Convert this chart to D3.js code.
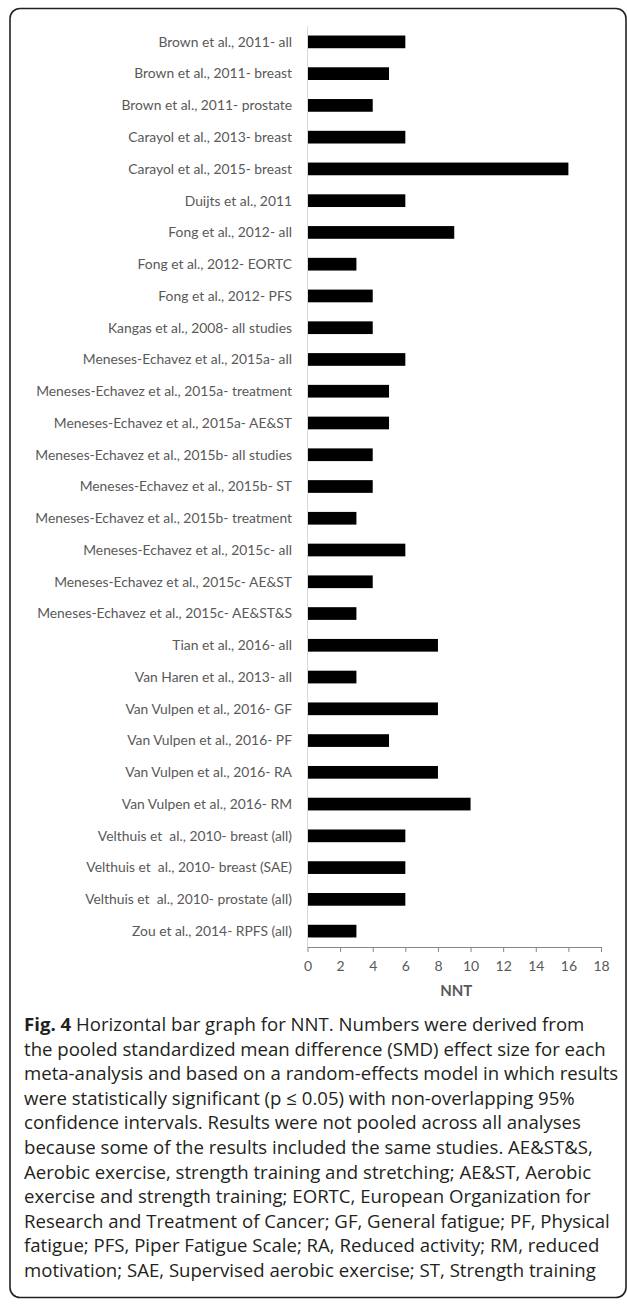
<!DOCTYPE html>
<html>
<head>
<meta charset="utf-8">
<script src="https://cdn.jsdelivr.net/npm/d3@7/dist/d3.min.js"></script>
<style>
  html, body { margin: 0; padding: 0; background: #fff; }
  svg { display: block; }
</style>
</head>
<body>
<svg id="chart" width="627" height="1307"></svg>
<script>
const categories = [
  "Brown et al., 2011- all",
  "Brown et al., 2011- breast",
  "Brown et al., 2011- prostate",
  "Carayol et al., 2013- breast",
  "Carayol et al., 2015- breast",
  "Duijts et al., 2011",
  "Fong et al., 2012- all",
  "Fong et al., 2012- EORTC",
  "Fong et al., 2012- PFS",
  "Kangas et al., 2008- all studies",
  "Meneses-Echavez et al., 2015a- all",
  "Meneses-Echavez et al., 2015a- treatment",
  "Meneses-Echavez et al., 2015a- AE&ST",
  "Meneses-Echavez et al., 2015b- all studies",
  "Meneses-Echavez et al., 2015b- ST",
  "Meneses-Echavez et al., 2015b- treatment",
  "Meneses-Echavez et al., 2015c- all",
  "Meneses-Echavez et al., 2015c- AE&ST",
  "Meneses-Echavez et al., 2015c- AE&ST&S",
  "Tian et al., 2016- all",
  "Van Haren et al., 2013- all",
  "Van Vulpen et al., 2016- GF",
  "Van Vulpen et al., 2016- PF",
  "Van Vulpen et al., 2016- RA",
  "Van Vulpen et al., 2016- RM",
  "Velthuis et  al., 2010- breast (all)",
  "Velthuis et  al., 2010- breast (SAE)",
  "Velthuis et  al., 2010- prostate (all)",
  "Zou et al., 2014- RPFS (all)"
];
const nntValues = [6, 5, 4, 6, 16, 6, 9, 3, 4, 4, 6, 5, 5, 4, 4, 3, 6, 4, 3, 8, 3, 8, 5, 8, 10, 6, 6, 6, 3];
const xTicks = [0, 2, 4, 6, 8, 10, 12, 14, 16, 18];
const xTitle = "NNT";
const captionBold = "Fig. 4";
const captionLines = [
  " Horizontal bar graph for NNT. Numbers were derived from",
  "the pooled standardized mean difference (SMD) effect size for each",
  "meta-analysis and based on a random-effects model in which results",
  "were statistically significant (p \u2264 0.05) with non-overlapping 95%",
  "confidence intervals. Results were not pooled across all analyses",
  "because some of the results included the same studies. AE&ST&S,",
  "Aerobic exercise, strength training and stretching; AE&ST, Aerobic",
  "exercise and strength training; EORTC, European Organization for",
  "Research and Treatment of Cancer; GF, General fatigue; PF, Physical",
  "fatigue; PFS, Piper Fatigue Scale; RA, Reduced activity; RM, reduced",
  "motivation; SAE, Supervised aerobic exercise; ST, Strength training"
];

const svg = d3.select("#chart");

// frame
svg.append("rect")
  .attr("x", 10).attr("y", 8.5)
  .attr("width", 616).attr("height", 1289)
  .attr("rx", 10).attr("ry", 10)
  .attr("fill", "none").attr("stroke", "#222").attr("stroke-width", 1.6);

const x0 = 307.5, x1 = 601;
const yTop = 26, yBot = 947;
const x = d3.scaleLinear().domain([0, 18]).range([x0, x1]);
const y = d3.scaleBand().domain(categories).range([yTop, yBot]).paddingInner(0.6).paddingOuter(0.3);

const g = svg.append("g");

// vertical axis line
g.append("line")
  .attr("x1", x0).attr("x2", x0).attr("y1", yTop).attr("y2", yBot)
  .attr("stroke", "#d9d9d9").attr("stroke-width", 1);

// bars
g.selectAll("rect.bar").data(categories).enter().append("rect")
  .attr("class", "bar")
  .attr("x", x(0) + 0.5)
  .attr("y", d => y(d))
  .attr("width", (d, i) => x(nntValues[i]) - x(0) - 0.5)
  .attr("height", y.bandwidth())
  .attr("fill", "#000");

// category labels
const labelFont = "Lato, sans-serif";
const labels = g.selectAll("text.cat").data(categories).enter().append("text")
  .attr("class", "cat")
  .attr("x", 292)
  .attr("y", d => y(d) + y.bandwidth() / 2)
  .attr("dy", "0.35em")
  .attr("text-anchor", "end")
  .attr("fill", "#595959")
  .style("font-family", labelFont)
  .style("font-size", "12px")
  .style("white-space", "pre")
  .text(d => d);
// fit label font so the longest label matches the reference width
let maxW = 0;
labels.each(function() { maxW = Math.max(maxW, this.getComputedTextLength()); });
const labelSize = 12 * 257 / maxW;
labels.style("font-size", labelSize + "px");

// x axis
const axis = d3.axisBottom(x).tickValues(xTicks).tickSize(5).tickSizeOuter(0).tickPadding(9);
const ax = g.append("g").attr("transform", `translate(0,${yBot})`).call(axis);
ax.select(".domain").attr("stroke", "#868686").attr("stroke-width", 1);
ax.selectAll(".tick line").attr("stroke", "#868686");
ax.selectAll(".tick text")
  .attr("fill", "#595959")
  .style("font-family", labelFont)
  .style("font-size", "14px");

g.append("text")
  .attr("x", (x0 + x1) / 2 + 2)
  .attr("y", 996)
  .attr("text-anchor", "middle")
  .attr("fill", "#595959")
  .style("font-family", labelFont)
  .style("font-size", "15px")
  .style("font-weight", "bold")
  .text(xTitle);

// caption
const capFont = "Open Sans, sans-serif";
const capG = svg.append("g");
const capTexts = capG.selectAll("text").data(captionLines).enter().append("text")
  .attr("x", 24)
  .attr("y", (d, i) => 1031 + i * 24.6)
  .attr("fill", "#231f20")
  .style("font-family", capFont)
  .style("font-size", "17px")
  .style("white-space", "pre");
capTexts.each(function(d, i) {
  const t = d3.select(this);
  if (i === 0) {
    t.append("tspan").style("font-weight", "bold").text(captionBold);
  }
  t.append("tspan").text(d);
});
// fit caption size to reference width of second line (~583px)
const w2 = capTexts.nodes()[1].getComputedTextLength();
const capSize = 17 * 582 / w2;
capTexts.style("font-size", capSize + "px");
</script>
</body>
</html>
